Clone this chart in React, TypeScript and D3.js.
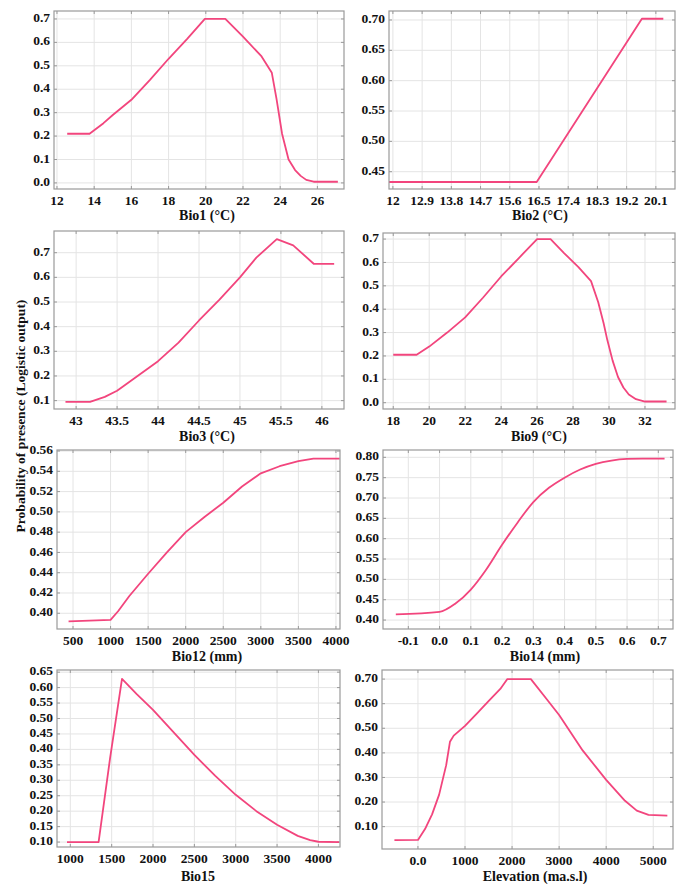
import React from 'react';
import * as d3 from 'd3';

// values
const bio1X = [12.55, 13.75, 14.5, 15, 16, 17, 18, 19, 19.95, 21.05, 22, 23, 23.55, 23.8, 24.1, 24.45, 24.8, 25.1, 25.4, 25.8, 27.1];
const bio1Y = [0.21, 0.21, 0.255, 0.29, 0.355, 0.44, 0.53, 0.615, 0.70, 0.70, 0.625, 0.54, 0.47, 0.36, 0.21, 0.10, 0.055, 0.03, 0.013, 0.005, 0.005];

const bio2X = [11.88, 16.43, 19.67, 20.33];
const bio2Y = [0.433, 0.433, 0.702, 0.702];

const bio3X = [42.87, 43.17, 43.35, 43.5, 43.75, 44, 44.25, 44.5, 44.75, 45, 45.2, 45.45, 45.65, 45.9, 46.15];
const bio3Y = [0.095, 0.095, 0.115, 0.14, 0.20, 0.26, 0.335, 0.425, 0.51, 0.60, 0.68, 0.755, 0.73, 0.655, 0.655];

const bio9X = [18, 19.3, 20, 21, 22, 23, 24, 25, 26, 26.75, 27.5, 28.3, 29.0, 29.4, 29.7, 29.9, 30.2, 30.5, 30.8, 31.1, 31.5, 32, 33.2];
const bio9Y = [0.205, 0.205, 0.24, 0.30, 0.365, 0.45, 0.54, 0.62, 0.70, 0.70, 0.64, 0.58, 0.52, 0.43, 0.34, 0.27, 0.18, 0.11, 0.065, 0.035, 0.015, 0.005, 0.005];

const bio12X = [441, 1000, 1100, 1250, 1500, 1750, 2000, 2250, 2500, 2750, 3000, 3250, 3500, 3700, 4050];
const bio12Y = [0.392, 0.3935, 0.402, 0.417, 0.439, 0.46, 0.48, 0.495, 0.509, 0.525, 0.538, 0.545, 0.550, 0.5525, 0.5525];

const bio14X = [-0.14, 0.0, 0.05, 0.1, 0.15, 0.2, 0.25, 0.3, 0.35, 0.4, 0.45, 0.5, 0.55, 0.6, 0.65, 0.72];
const bio14Y = [0.414, 0.42, 0.44, 0.475, 0.525, 0.585, 0.64, 0.69, 0.725, 0.75, 0.77, 0.784, 0.792, 0.796, 0.797, 0.797];

const bio15X = [960, 1342, 1480, 1625, 1800, 2000, 2250, 2500, 2750, 3000, 3250, 3500, 3750, 3900, 4000, 4250];
const bio15Y = [0.10, 0.10, 0.37, 0.628, 0.58, 0.528, 0.455, 0.382, 0.315, 0.253, 0.2, 0.156, 0.12, 0.106, 0.101, 0.10];

const elevX = [-500, 0, 150, 300, 450, 600, 680, 760, 1000, 1250, 1500, 1750, 1900, 2400, 2750, 3000, 3500, 4000, 4400, 4650, 4900, 5300];
const elevY = [0.045, 0.046, 0.09, 0.15, 0.23, 0.35, 0.445, 0.47, 0.51, 0.56, 0.61, 0.66, 0.70, 0.70, 0.615, 0.554, 0.41, 0.29, 0.205, 0.165, 0.148, 0.145];

// tick values and labels
const t1x = [12, 14, 16, 18, 20, 22, 24, 26];
const t1y = [0, 0.1, 0.2, 0.3, 0.4, 0.5, 0.6, 0.7];
const t2x = [12, 12.9, 13.8, 14.7, 15.6, 16.5, 17.4, 18.3, 19.2, 20.1];
const t2y = [0.45, 0.5, 0.55, 0.6, 0.65, 0.7];
const t3x = [43, 43.5, 44, 44.5, 45, 45.5, 46];
const t3y = [0.1, 0.2, 0.3, 0.4, 0.5, 0.6, 0.7];
const t4x = [18, 20, 22, 24, 26, 28, 30, 32];
const t4y = [0, 0.1, 0.2, 0.3, 0.4, 0.5, 0.6, 0.7];
const t5x = [500, 1000, 1500, 2000, 2500, 3000, 3500, 4000];
const t5y = [0.40, 0.42, 0.44, 0.46, 0.48, 0.50, 0.52, 0.54, 0.56];
const t6x = [-0.1, 0, 0.1, 0.2, 0.3, 0.4, 0.5, 0.6, 0.7];
const t6y = [0.40, 0.45, 0.50, 0.55, 0.60, 0.65, 0.70, 0.75, 0.80];
const t7x = [1000, 1500, 2000, 2500, 3000, 3500, 4000];
const t7y = [0.10, 0.15, 0.20, 0.25, 0.30, 0.35, 0.40, 0.45, 0.50, 0.55, 0.60, 0.65];
const t8x = [0, 1000, 2000, 3000, 4000, 5000];
const t8y = [0.1, 0.2, 0.3, 0.4, 0.5, 0.6, 0.7];

const titles = ['Bio1 (°C)', 'Bio2 (°C)', 'Bio3 (°C)', 'Bio9 (°C)', 'Bio12 (mm)', 'Bio14 (mm)', 'Bio15', 'Elevation (ma.s.l)'];

const f1 = (d: number) => d.toFixed(1);
const f2 = (d: number) => d.toFixed(2);
const plain = (d: number) => String(d);

const panels = [
    { xs: bio1X, ys: bio1Y, tx: t1x, ty: t1y, fx: plain, fy: f1, xd: [11.84, 27.43], yd: [-0.026, 0.734], box: [54, 344, 11, 189], title: [207, 217] },
    { xs: bio2X, ys: bio2Y, tx: t2x, ty: t2y, fx: plain, fy: f2, xd: [11.88, 20.69], yd: [0.4215, 0.7148], box: [389, 675, 11, 189], title: [540, 217] },
    { xs: bio3X, ys: bio3Y, tx: t3x, ty: t3y, fx: plain, fy: f1, xd: [42.73, 46.27], yd: [0.066, 0.788], box: [54, 344, 231, 409], title: [207, 438] },
    { xs: bio9X, ys: bio9Y, tx: t4x, ty: t4y, fx: plain, fy: f1, xd: [17.43, 33.67], yd: [-0.027, 0.726], box: [383, 675, 233, 409], title: [539, 438] },
    { xs: bio12X, ys: bio12Y, tx: t5x, ty: t5y, fx: plain, fy: f2, xd: [287, 4054], yd: [0.3845, 0.561], box: [57, 340, 450, 629], title: [207, 658] },
    { xs: bio14X, ys: bio14Y, tx: t6x, ty: t6y, fx: f1, fy: f2, xd: [-0.181, 0.747], yd: [0.378, 0.818], box: [383, 673, 450, 629], title: [545, 658], smooth: true },
    { xs: bio15X, ys: bio15Y, tx: t7x, ty: t7y, fx: plain, fy: f2, xd: [839, 4261], yd: [0.084, 0.657], box: [57, 340, 670, 847], title: [198, 878] },
    { xs: elevX, ys: elevY, tx: t8x, ty: t8y, fx: (d: number) => (d === 0 ? '0.0' : String(d)), fy: f2, xd: [-764, 5420], yd: [0.009, 0.737], box: [382, 673, 670, 849], title: [535, 878] },
];

const font = '"Liberation Serif", "Times New Roman", serif';
const lineColor = '#f2457d';

function Panel({ p, i }: { p: any; i: number }) {
    const [x0, x1, y0, y1] = p.box;
    const x = d3.scaleLinear().domain(p.xd).range([x0, x1]);
    const y = d3.scaleLinear().domain(p.yd).range([y1, y0]);
    const pts = p.xs.map((v: number, k: number) => [v, p.ys[k]]);
    const line = d3.line<number[]>().x(d => x(d[0])).y(d => y(d[1]))
        .curve(p.smooth ? d3.curveMonotoneX : d3.curveLinear);
    return (
        <g>
            {/* grid */}
            {p.tx.map((t: number) => (
                <line key={'gx' + t} x1={x(t)} x2={x(t)} y1={y0} y2={y1} stroke="#e4e4e4" strokeWidth={1} />
            ))}
            {p.ty.map((t: number) => (
                <line key={'gy' + t} x1={x0} x2={x1} y1={y(t)} y2={y(t)} stroke="#e4e4e4" strokeWidth={1} />
            ))}
            {/* inward ticks */}
            {p.tx.map((t: number) => (
                <g key={'kx' + t} stroke="#9a9a9a">
                    <line x1={x(t)} x2={x(t)} y1={y0} y2={y0 + 3} />
                    <line x1={x(t)} x2={x(t)} y1={y1} y2={y1 - 3} />
                </g>
            ))}
            {p.ty.map((t: number) => (
                <g key={'ky' + t} stroke="#9a9a9a">
                    <line x1={x0} x2={x0 + 3} y1={y(t)} y2={y(t)} />
                    <line x1={x1} x2={x1 - 3} y1={y(t)} y2={y(t)} />
                </g>
            ))}
            <path d={line(pts) || ''} fill="none" stroke={lineColor} strokeWidth={1.8} strokeLinejoin="round" />
            <rect x={x0} y={y0} width={x1 - x0} height={y1 - y0} fill="none" stroke="#9a9a9a" strokeWidth={1.2} />
            {p.tx.map((t: number) => (
                <text key={'lx' + t} x={x(t)} y={y1 + 13} textAnchor="middle" dominantBaseline="middle"
                    fontFamily={font} fontWeight="bold" fontSize={13.5} fill="#111">{p.fx(t)}</text>
            ))}
            {p.ty.map((t: number) => (
                <text key={'ly' + t} x={x0 - 4} y={y(t)} textAnchor="end" dominantBaseline="middle"
                    fontFamily={font} fontWeight="bold" fontSize={13.5} fill="#111">{p.fy(t)}</text>
            ))}
            <text x={p.title[0]} y={p.title[1]} textAnchor="middle" dominantBaseline="middle"
                fontFamily={font} fontWeight="bold" fontSize={14} fill="#111">{titles[i]}</text>
        </g>
    );
}

export default function App() {
    return (
        <svg width={681} height={884} style={{ position: 'absolute', left: 0, top: 0, background: '#fff' }}>
            {panels.map((p, i) => <Panel key={i} p={p} i={i} />)}
            <text transform="translate(22,416) rotate(-90)" textAnchor="middle" dominantBaseline="middle"
                fontFamily={font} fontWeight="bold" fontSize={13.5} fill="#111">Probability of presence (Logistic output)</text>
        </svg>
    );
}
